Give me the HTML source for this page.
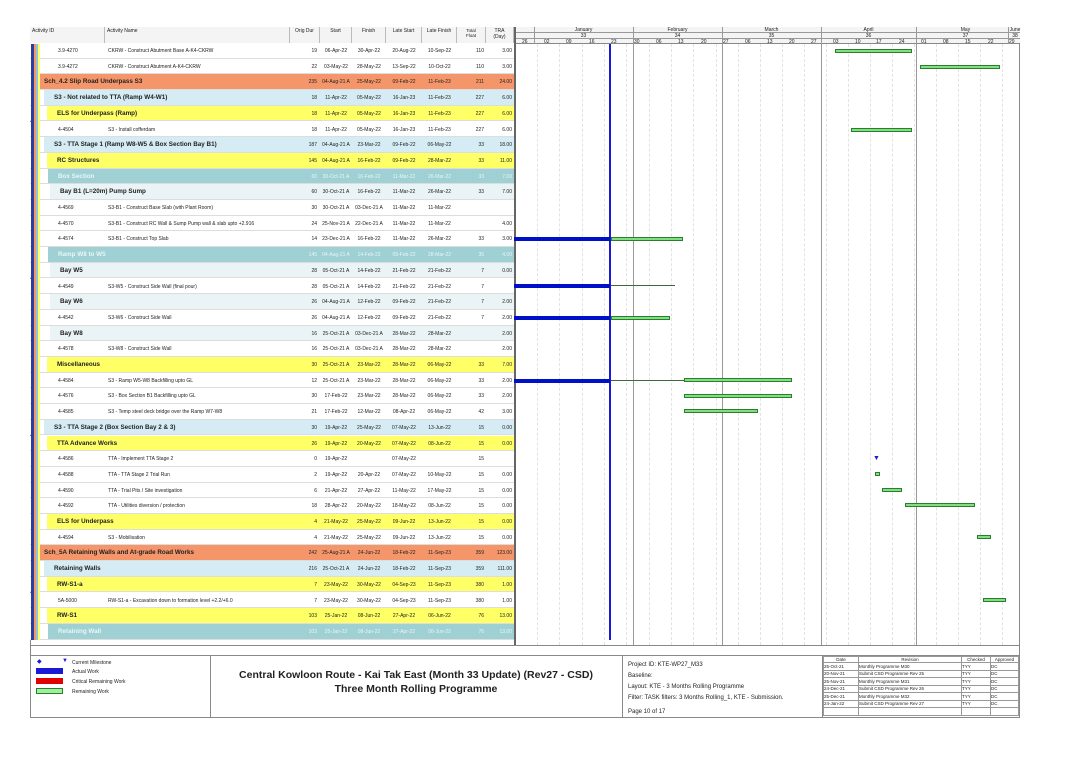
<!DOCTYPE html>
<html><head><meta charset="utf-8"><style>
*{margin:0;padding:0;box-sizing:border-box}
body{width:1082px;height:765px;background:#fff;font-family:"Liberation Sans",sans-serif;position:relative;overflow:hidden;color:#222}
.a{position:absolute}
.hdr{position:absolute;top:27px;height:17px;font-size:5px;border-right:1px solid #bbb;padding:1px 2px;background:#f4f4f4;border-bottom:1px solid #888}
.row{position:absolute;left:30px;width:484px;height:15.7px;font-size:5px;border-bottom:1px solid #ddd;background:#fff}
.row span{position:absolute;top:5px;white-space:nowrap}
.row .i{left:28px}.row .n{left:78px}
.row .t{top:4px;font-size:6.3px;font-weight:bold}
.c3{left:258px;width:29px;text-align:right}
.c4{left:290px;width:32px;text-align:center}
.c5{left:322px;width:34px;text-align:center}
.c6{left:356px;width:36px;text-align:center}
.c7{left:392px;width:35px;text-align:center}
.c8{left:427px;width:27px;text-align:right}
.c9{left:455px;width:27px;text-align:right}
.o{background:linear-gradient(to right,#fff 10px,#f5956a 10px)}
.b{background:linear-gradient(to right,#fff 14px,#d5ecf4 14px)}
.y{background:linear-gradient(to right,#fff 17px,#ffff66 17px)}
.c{background:linear-gradient(to right,#fff 18px,#9fd0d4 18px);color:#e8f6f6}
.g{background:linear-gradient(to right,#fff 20px,#eaf3f5 20px)}
.o .t{left:14px}.b .t{left:24px}.y .t{left:27px}.c .t{left:28px}.g .t{left:30px}
.bar{position:absolute;height:4px;background:#7fe07f;border:1px solid #2e7d2e}
.blu{position:absolute;height:4px;background:#0010c8}
.ln{position:absolute;height:1px;background:#3b6b3b}
.vl{position:absolute;top:44px;height:601px;width:0;border-left:1px dashed #e2e2e2}
.mv{position:absolute;top:27px;height:618px;width:1px;background:#999}
.ft{position:absolute;font-size:5px}
.cd{position:absolute;top:44px;height:596px;border-left:1px solid #e4e4e4}
.dv{position:absolute;top:0;height:15px;border-left:1px solid #e4e4e4}
</style></head><body>
<div class="a" style="left:30px;top:27px;width:990px;height:691px;border:1px solid #888"></div>
<div class="hdr" style="left:30px;width:75px">Activity ID</div>
<div class="hdr" style="left:105px;width:185px">Activity Name</div>
<div class="hdr" style="left:290px;width:30px;text-align:center">Orig Dur</div>
<div class="hdr" style="left:320px;width:32px;text-align:center">Start</div>
<div class="hdr" style="left:352px;width:34px;text-align:center">Finish</div>
<div class="hdr" style="left:386px;width:36px;text-align:center">Late Start</div>
<div class="hdr" style="left:422px;width:35px;text-align:center">Late Finish</div>
<div class="hdr" style="left:457px;width:29px;text-align:center;font-size:4.5px">Total<br>Float</div>
<div class="hdr" style="left:486px;width:28px;text-align:center">TRA (Day)</div>
<div class="a" style="left:514px;top:27px;width:506px;height:17px;background:#f4f4f4;border-bottom:1px solid #888;border-left:2px solid #666"></div>
<div class="a" style="left:514px;top:32px;width:506px;border-top:1px solid #999"></div>
<div class="a" style="left:514px;top:38px;width:506px;border-top:1px solid #999"></div>
<div class="a" style="font-size:5px;top:27px;left:534px;width:99px;text-align:center">January<br>33</div>
<div class="a" style="font-size:5px;top:27px;left:633px;width:89px;text-align:center">February<br>34</div>
<div class="a" style="font-size:5px;top:27px;left:722px;width:99px;text-align:center">March<br>35</div>
<div class="a" style="font-size:5px;top:27px;left:821px;width:95px;text-align:center">April<br>36</div>
<div class="a" style="font-size:5px;top:27px;left:916px;width:99px;text-align:center">May<br>37</div>
<div class="a" style="font-size:5px;top:27px;left:1008px;width:14px;text-align:center">June<br>38</div>
<div class="a" style="top:39px;left:515px;font-size:5px;width:506px;height:5px">
<span class="a" style="left:7px">26</span><span class="a" style="left:29px">02</span><span class="a" style="left:51px">09</span><span class="a" style="left:74px">16</span><span class="a" style="left:96px">23</span><span class="a" style="left:119px">30</span><span class="a" style="left:141px">06</span><span class="a" style="left:163px">13</span><span class="a" style="left:186px">20</span><span class="a" style="left:208px">27</span><span class="a" style="left:230px">06</span><span class="a" style="left:252px">13</span><span class="a" style="left:274px">20</span><span class="a" style="left:296px">27</span><span class="a" style="left:318px">03</span><span class="a" style="left:340px">10</span><span class="a" style="left:361px">17</span><span class="a" style="left:384px">24</span><span class="a" style="left:406px">01</span><span class="a" style="left:428px">08</span><span class="a" style="left:450px">15</span><span class="a" style="left:473px">22</span><span class="a" style="left:494px">29</span></div>
<div class="vl" style="left:537px"></div><div class="vl" style="left:559px"></div><div class="vl" style="left:582px"></div><div class="vl" style="left:604px"></div><div class="vl" style="left:626px"></div><div class="vl" style="left:649px"></div><div class="vl" style="left:671px"></div><div class="vl" style="left:693px"></div><div class="vl" style="left:716px"></div><div class="vl" style="left:738px"></div><div class="vl" style="left:760px"></div><div class="vl" style="left:782px"></div><div class="vl" style="left:804px"></div><div class="vl" style="left:826px"></div><div class="vl" style="left:848px"></div><div class="vl" style="left:870px"></div><div class="vl" style="left:892px"></div><div class="vl" style="left:914px"></div><div class="vl" style="left:936px"></div><div class="vl" style="left:958px"></div><div class="vl" style="left:980px"></div><div class="vl" style="left:1002px"></div>
<div class="mv" style="left:534px;height:17px"></div><div class="mv" style="left:633px"></div><div class="mv" style="left:722px"></div><div class="mv" style="left:821px"></div><div class="mv" style="left:916px"></div><div class="mv" style="left:1008px;height:17px"></div>
<div class="a" style="left:514px;top:27px;width:2px;height:618px;background:#666"></div>

<div class="row" style="top:43px"><span class="i">3.9-4270</span><span class="n">CKRW - Construct Abutment Base A-K4-CKRW</span><span class="c3">19</span><span class="c4">06-Apr-22</span><span class="c5">30-Apr-22</span><span class="c6">20-Aug-22</span><span class="c7">10-Sep-22</span><span class="c8">110</span><span class="c9">3.00</span></div>
<div class="row" style="top:58.7px"><span class="i">3.9-4272</span><span class="n">CKRW - Construct Abutment A-K4-CKRW</span><span class="c3">22</span><span class="c4">03-May-22</span><span class="c5">28-May-22</span><span class="c6">13-Sep-22</span><span class="c7">10-Oct-22</span><span class="c8">110</span><span class="c9">3.00</span></div>
<div class="row o" style="top:74.4px"><span class="t">Sch_4.2 Slip Road Underpass S3</span><span class="c3">235</span><span class="c4">04-Aug-21 A</span><span class="c5">25-May-22</span><span class="c6">09-Feb-22</span><span class="c7">11-Feb-23</span><span class="c8">211</span><span class="c9">24.00</span></div>
<div class="row b" style="top:90.1px"><span class="t">S3 - Not related to TTA (Ramp W4-W1)</span><span class="c3">18</span><span class="c4">11-Apr-22</span><span class="c5">05-May-22</span><span class="c6">16-Jan-23</span><span class="c7">11-Feb-23</span><span class="c8">227</span><span class="c9">6.00</span></div>
<div class="row y" style="top:105.8px"><span class="t">ELS for Underpass (Ramp)</span><span class="c3">18</span><span class="c4">11-Apr-22</span><span class="c5">05-May-22</span><span class="c6">16-Jan-23</span><span class="c7">11-Feb-23</span><span class="c8">227</span><span class="c9">6.00</span></div>
<div class="row" style="top:121.5px"><span class="i">4-4504</span><span class="n">S3 - Install cofferdam</span><span class="c3">18</span><span class="c4">11-Apr-22</span><span class="c5">05-May-22</span><span class="c6">16-Jan-23</span><span class="c7">11-Feb-23</span><span class="c8">227</span><span class="c9">6.00</span></div>
<div class="row b" style="top:137.2px"><span class="t">S3 - TTA Stage 1 (Ramp W8-W5 &amp; Box Section Bay B1)</span><span class="c3">187</span><span class="c4">04-Aug-21 A</span><span class="c5">23-Mar-22</span><span class="c6">09-Feb-22</span><span class="c7">06-May-22</span><span class="c8">33</span><span class="c9">18.00</span></div>
<div class="row y" style="top:152.9px"><span class="t">RC Structures</span><span class="c3">145</span><span class="c4">04-Aug-21 A</span><span class="c5">16-Feb-22</span><span class="c6">09-Feb-22</span><span class="c7">28-Mar-22</span><span class="c8">33</span><span class="c9">11.00</span></div>
<div class="row c" style="top:168.6px"><span class="t">Box Section</span><span class="c3">60</span><span class="c4">30-Oct-21 A</span><span class="c5">16-Feb-22</span><span class="c6">11-Mar-22</span><span class="c7">26-Mar-22</span><span class="c8">33</span><span class="c9">7.00</span></div>
<div class="row g" style="top:184.3px"><span class="t">Bay B1 (L=20m) Pump Sump</span><span class="c3">60</span><span class="c4">30-Oct-21 A</span><span class="c5">16-Feb-22</span><span class="c6">11-Mar-22</span><span class="c7">26-Mar-22</span><span class="c8">33</span><span class="c9">7.00</span></div>
<div class="row" style="top:200px"><span class="i">4-4569</span><span class="n">S3-B1 - Construct Base Slab (with Plant Room)</span><span class="c3">30</span><span class="c4">30-Oct-21 A</span><span class="c5">03-Dec-21 A</span><span class="c6">11-Mar-22</span><span class="c7">11-Mar-22</span></div>
<div class="row" style="top:215.7px"><span class="i">4-4570</span><span class="n">S3-B1 - Construct RC Wall &amp; Sump Pump wall &amp; slab upto +2.916</span><span class="c3">24</span><span class="c4">25-Nov-21 A</span><span class="c5">22-Dec-21 A</span><span class="c6">11-Mar-22</span><span class="c7">11-Mar-22</span><span class="c9">4.00</span></div>
<div class="row" style="top:231.4px"><span class="i">4-4574</span><span class="n">S3-B1 - Construct Top Slab</span><span class="c3">14</span><span class="c4">23-Dec-21 A</span><span class="c5">16-Feb-22</span><span class="c6">11-Mar-22</span><span class="c7">26-Mar-22</span><span class="c8">33</span><span class="c9">3.00</span></div>
<div class="row c" style="top:247.1px"><span class="t">Ramp W8 to W5</span><span class="c3">145</span><span class="c4">04-Aug-21 A</span><span class="c5">14-Feb-22</span><span class="c6">09-Feb-22</span><span class="c7">28-Mar-22</span><span class="c8">35</span><span class="c9">4.00</span></div>
<div class="row g" style="top:262.8px"><span class="t">Bay W5</span><span class="c3">28</span><span class="c4">05-Oct-21 A</span><span class="c5">14-Feb-22</span><span class="c6">21-Feb-22</span><span class="c7">21-Feb-22</span><span class="c8">7</span><span class="c9">0.00</span></div>
<div class="row" style="top:278.5px"><span class="i">4-4549</span><span class="n">S3-W5 - Construct Side Wall (final pour)</span><span class="c3">28</span><span class="c4">05-Oct-21 A</span><span class="c5">14-Feb-22</span><span class="c6">21-Feb-22</span><span class="c7">21-Feb-22</span><span class="c8">7</span></div>
<div class="row g" style="top:294.2px"><span class="t">Bay W6</span><span class="c3">26</span><span class="c4">04-Aug-21 A</span><span class="c5">12-Feb-22</span><span class="c6">09-Feb-22</span><span class="c7">21-Feb-22</span><span class="c8">7</span><span class="c9">2.00</span></div>
<div class="row" style="top:309.9px"><span class="i">4-4542</span><span class="n">S3-W6 - Construct Side Wall</span><span class="c3">26</span><span class="c4">04-Aug-21 A</span><span class="c5">12-Feb-22</span><span class="c6">09-Feb-22</span><span class="c7">21-Feb-22</span><span class="c8">7</span><span class="c9">2.00</span></div>
<div class="row g" style="top:325.6px"><span class="t">Bay W8</span><span class="c3">16</span><span class="c4">25-Oct-21 A</span><span class="c5">03-Dec-21 A</span><span class="c6">28-Mar-22</span><span class="c7">28-Mar-22</span><span class="c9">2.00</span></div>
<div class="row" style="top:341.3px"><span class="i">4-4578</span><span class="n">S3-W8 - Construct Side Wall</span><span class="c3">16</span><span class="c4">25-Oct-21 A</span><span class="c5">03-Dec-21 A</span><span class="c6">28-Mar-22</span><span class="c7">28-Mar-22</span><span class="c9">2.00</span></div>
<div class="row y" style="top:357px"><span class="t">Miscellaneous</span><span class="c3">30</span><span class="c4">25-Oct-21 A</span><span class="c5">23-Mar-22</span><span class="c6">28-Mar-22</span><span class="c7">06-May-22</span><span class="c8">33</span><span class="c9">7.00</span></div>
<div class="row" style="top:372.7px"><span class="i">4-4584</span><span class="n">S3 - Ramp W5-W8 Backfilling upto GL</span><span class="c3">12</span><span class="c4">25-Oct-21 A</span><span class="c5">23-Mar-22</span><span class="c6">28-Mar-22</span><span class="c7">06-May-22</span><span class="c8">33</span><span class="c9">2.00</span></div>
<div class="row" style="top:388.4px"><span class="i">4-4576</span><span class="n">S3 - Box Section B1 Backfilling upto GL</span><span class="c3">30</span><span class="c4">17-Feb-22</span><span class="c5">23-Mar-22</span><span class="c6">28-Mar-22</span><span class="c7">06-May-22</span><span class="c8">33</span><span class="c9">2.00</span></div>
<div class="row" style="top:404.1px"><span class="i">4-4585</span><span class="n">S3 - Temp steel deck bridge over the Ramp W7-W8</span><span class="c3">21</span><span class="c4">17-Feb-22</span><span class="c5">12-Mar-22</span><span class="c6">08-Apr-22</span><span class="c7">06-May-22</span><span class="c8">42</span><span class="c9">3.00</span></div>
<div class="row b" style="top:419.8px"><span class="t">S3 - TTA Stage 2 (Box Section Bay 2 &amp; 3)</span><span class="c3">30</span><span class="c4">19-Apr-22</span><span class="c5">25-May-22</span><span class="c6">07-May-22</span><span class="c7">13-Jun-22</span><span class="c8">15</span><span class="c9">0.00</span></div>
<div class="row y" style="top:435.5px"><span class="t">TTA Advance Works</span><span class="c3">26</span><span class="c4">19-Apr-22</span><span class="c5">20-May-22</span><span class="c6">07-May-22</span><span class="c7">08-Jun-22</span><span class="c8">15</span><span class="c9">0.00</span></div>
<div class="row" style="top:451.2px"><span class="i">4-4586</span><span class="n">TTA - Implement TTA Stage 2</span><span class="c3">0</span><span class="c4">19-Apr-22</span><span class="c6">07-May-22</span><span class="c8">15</span></div>
<div class="row" style="top:466.9px"><span class="i">4-4588</span><span class="n">TTA - TTA Stage 2 Trial Run</span><span class="c3">2</span><span class="c4">19-Apr-22</span><span class="c5">20-Apr-22</span><span class="c6">07-May-22</span><span class="c7">10-May-22</span><span class="c8">15</span><span class="c9">0.00</span></div>
<div class="row" style="top:482.6px"><span class="i">4-4590</span><span class="n">TTA - Trial Pits / Site investigation</span><span class="c3">6</span><span class="c4">21-Apr-22</span><span class="c5">27-Apr-22</span><span class="c6">11-May-22</span><span class="c7">17-May-22</span><span class="c8">15</span><span class="c9">0.00</span></div>
<div class="row" style="top:498.3px"><span class="i">4-4592</span><span class="n">TTA - Utilities diversion / protection</span><span class="c3">18</span><span class="c4">28-Apr-22</span><span class="c5">20-May-22</span><span class="c6">18-May-22</span><span class="c7">08-Jun-22</span><span class="c8">15</span><span class="c9">0.00</span></div>
<div class="row y" style="top:514px"><span class="t">ELS for Underpass</span><span class="c3">4</span><span class="c4">21-May-22</span><span class="c5">25-May-22</span><span class="c6">09-Jun-22</span><span class="c7">13-Jun-22</span><span class="c8">15</span><span class="c9">0.00</span></div>
<div class="row" style="top:529.7px"><span class="i">4-4594</span><span class="n">S3 - Mobilisation</span><span class="c3">4</span><span class="c4">21-May-22</span><span class="c5">25-May-22</span><span class="c6">09-Jun-22</span><span class="c7">13-Jun-22</span><span class="c8">15</span><span class="c9">0.00</span></div>
<div class="row o" style="top:545.4px"><span class="t">Sch_5A Retaining Walls and At-grade Road Works</span><span class="c3">242</span><span class="c4">25-Aug-21 A</span><span class="c5">24-Jun-22</span><span class="c6">18-Feb-22</span><span class="c7">11-Sep-23</span><span class="c8">359</span><span class="c9">123.00</span></div>
<div class="row b" style="top:561.1px"><span class="t">Retaining Walls</span><span class="c3">216</span><span class="c4">25-Oct-21 A</span><span class="c5">24-Jun-22</span><span class="c6">18-Feb-22</span><span class="c7">11-Sep-23</span><span class="c8">359</span><span class="c9">111.00</span></div>
<div class="row y" style="top:576.8px"><span class="t">RW-S1-a</span><span class="c3">7</span><span class="c4">23-May-22</span><span class="c5">30-May-22</span><span class="c6">04-Sep-23</span><span class="c7">11-Sep-23</span><span class="c8">380</span><span class="c9">1.00</span></div>
<div class="row" style="top:592.5px"><span class="i">5A-5000</span><span class="n">RW-S1-a - Excavation down to formation level +2.2/+6.0</span><span class="c3">7</span><span class="c4">23-May-22</span><span class="c5">30-May-22</span><span class="c6">04-Sep-23</span><span class="c7">11-Sep-23</span><span class="c8">380</span><span class="c9">1.00</span></div>
<div class="row y" style="top:608.2px"><span class="t">RW-S1</span><span class="c3">103</span><span class="c4">25-Jan-22</span><span class="c5">08-Jun-22</span><span class="c6">27-Apr-22</span><span class="c7">06-Jun-22</span><span class="c8">76</span><span class="c9">13.00</span></div>
<div class="row c" style="top:623.9px"><span class="t">Retaining Wall</span><span class="c3">103</span><span class="c4">25-Jan-22</span><span class="c5">08-Jun-22</span><span class="c6">27-Apr-22</span><span class="c7">06-Jun-22</span><span class="c8">76</span><span class="c9">13.00</span></div>
<!-- left stripes -->
<div class="a" style="left:31px;top:44px;width:3px;height:596px;background:#2b3f9a"></div>
<div class="a" style="left:34px;top:44px;width:2px;height:596px;background:#f5956a"></div>
<div class="a" style="left:36px;top:44px;width:2px;height:596px;background:#8fc4dd"></div>
<div class="a" style="left:38px;top:44px;width:2px;height:596px;background:#ffff66"></div>
<!-- data date -->
<div class="a" style="left:609px;top:44px;width:2px;height:596px;background:#1a1ad6"></div>
<!-- bars -->
<div class="bar" style="left:835px;top:49px;width:77px"></div>
<div class="bar" style="left:920px;top:65px;width:80px"></div>
<div class="bar" style="left:851px;top:128px;width:61px"></div>
<div class="blu" style="left:514px;top:237px;width:96px"></div><div class="bar" style="left:611px;top:237px;width:72px"></div>
<div class="blu" style="left:514px;top:284px;width:96px"></div><div class="ln" style="left:611px;top:285px;width:64px"></div>
<div class="blu" style="left:514px;top:316px;width:96px"></div><div class="bar" style="left:611px;top:316px;width:59px"></div>
<div class="blu" style="left:514px;top:379px;width:96px"></div><div class="ln" style="left:611px;top:380px;width:73px"></div><div class="bar" style="left:684px;top:378px;width:108px"></div>
<div class="bar" style="left:684px;top:394px;width:108px"></div>
<div class="bar" style="left:684px;top:409px;width:74px"></div>
<div class="a" style="left:873px;top:455px;font-size:7px;color:#1a1ad6">&#9660;</div>
<div class="bar" style="left:875px;top:472px;width:5px"></div>
<div class="bar" style="left:882px;top:488px;width:20px"></div>
<div class="bar" style="left:905px;top:503px;width:70px"></div>
<div class="bar" style="left:977px;top:535px;width:14px"></div>
<div class="bar" style="left:983px;top:598px;width:23px"></div>
<!-- footer -->
<div class="a" style="left:30px;top:645px;width:990px;height:73px;border-top:1px solid #888"></div>
<div class="a" style="left:210px;top:655px;height:63px;border-left:1px solid #888"></div>
<div class="a" style="left:622px;top:655px;height:63px;border-left:1px solid #888"></div>
<div class="a" style="left:822px;top:655px;height:63px;border-left:1px solid #888"></div>
<div class="a" style="left:30px;top:655px;width:990px;border-top:1px solid #888"></div>
<div class="ft" style="left:37px;top:658px;color:#1a1ad6;font-size:6px">&#9670;</div>
<div class="ft" style="left:62px;top:658px;color:#1a1ad6;font-size:6px">&#9660;</div>
<div class="ft" style="left:72px;top:660px">Current Milestone</div>
<div class="a" style="left:36px;top:668px;width:27px;height:6px;background:#1a1ad6"></div><div class="ft" style="left:72px;top:669px">Actual Work</div>
<div class="a" style="left:36px;top:678px;width:27px;height:6px;background:#e00000"></div><div class="ft" style="left:72px;top:679px">Critical Remaining Work</div>
<div class="a" style="left:36px;top:688px;width:27px;height:6px;background:#9ef09e;border:1px solid #2e7d2e"></div><div class="ft" style="left:72px;top:689px">Remaining Work</div>
<div class="a" style="left:210px;top:668px;width:412px;text-align:center;font-weight:bold;font-size:10.5px;line-height:14px">Central Kowloon Route - Kai Tak East (Month 33 Update) (Rev27 - CSD)<br>Three Month Rolling Programme</div>
<div class="ft" style="left:628px;top:660px;font-size:6px;line-height:11px">Project ID: KTE-WP27_M33<br>Baseline:<br>Layout: KTE - 3 Months Rolling Programme<br>Filter: TASK filters: 3 Months Rolling_1, KTE - Submission.</div>
<div class="ft" style="left:628px;top:709px;font-size:6px">Page 10 of 17</div>
<table class="a" style="left:823px;top:656px;width:196px;border-collapse:collapse;font-size:4.5px">
<tr style="height:6px"><td style="width:35px;border:1px solid #999;text-align:center">Date</td><td style="width:103px;border:1px solid #999;text-align:center">Revision</td><td style="width:29px;border:1px solid #999;text-align:center">Checked</td><td style="border:1px solid #999;text-align:center">Approved</td></tr>
<tr style="height:7.5px"><td style="border:1px solid #999">25-Oct-21</td><td style="border:1px solid #999">Monthly Programme M30</td><td style="border:1px solid #999">TYY</td><td style="border:1px solid #999">DC</td></tr>
<tr style="height:7.5px"><td style="border:1px solid #999">20-Nov-21</td><td style="border:1px solid #999">Submit CSD Programme Rev 25</td><td style="border:1px solid #999">TYY</td><td style="border:1px solid #999">DC</td></tr>
<tr style="height:7.5px"><td style="border:1px solid #999">25-Nov-21</td><td style="border:1px solid #999">Monthly Programme M31</td><td style="border:1px solid #999">TYY</td><td style="border:1px solid #999">DC</td></tr>
<tr style="height:7.5px"><td style="border:1px solid #999">24-Dec-21</td><td style="border:1px solid #999">Submit CSD Programme Rev 26</td><td style="border:1px solid #999">TYY</td><td style="border:1px solid #999">DC</td></tr>
<tr style="height:7.5px"><td style="border:1px solid #999">25-Dec-21</td><td style="border:1px solid #999">Monthly Programme M32</td><td style="border:1px solid #999">TYY</td><td style="border:1px solid #999">DC</td></tr>
<tr style="height:7.5px"><td style="border:1px solid #999">24-Jan-22</td><td style="border:1px solid #999">Submit CSD Programme Rev 27</td><td style="border:1px solid #999">TYY</td><td style="border:1px solid #999">DC</td></tr>
<tr style="height:7.5px"><td style="border:1px solid #999"></td><td style="border:1px solid #999"></td><td style="border:1px solid #999"></td><td style="border:1px solid #999"></td></tr>
</table>
</body></html>
